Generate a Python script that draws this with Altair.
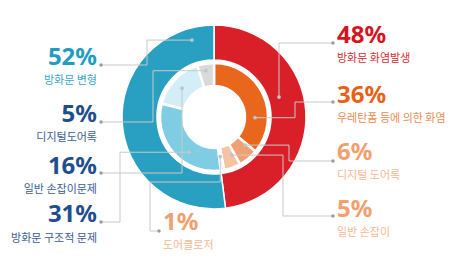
import math
import altair as alt
import pandas as pd

# ---------------- data ----------------
outer_names = ["방화문 화염발생", "방화문 변형"]
outer_values = [48, 52]
outer_colors = ["#d91f28", "#29a0c1"]

inner_names = ["우레탄폼 등에 의한 화염", "디지털 도어록", "일반 손잡이", "도어클로저",
               "방화문 구조적 문제", "일반 손잡이문제", "디지털도어록"]
inner_values = [36, 6, 5, 1, 31, 16, 5]
inner_colors = ["#e9661d", "#f0a072", "#f5c3a4", "#f7cfb8", "#7ecde2", "#d3eef6", "#d9d9d9"]

# ---------------- layout ----------------
W, H = 457, 266
CX, CY = 214, 117

# per slice annotation layout:
# ring, idx, side, text_x, pct_baseline_y, name_mid_y, pct_color, name_color,
# anchor_x, anchor_y, elbow_x, elbow_y (None -> dot y), dot_angle, dot_radius
ann = [
    ("outer", 0, "L", 337, 43, 59, "#d7141e", "#dc2a33", 333, 43, 279, None, 73, 68),
    ("outer", 1, "R", 97, 65, 81, "#1f9dc1", "#3aa7c7", 101, 65, 147, None, 344, 80),
    ("inner", 0, "L", 337, 103, 119, "#ea5f16", "#f08a52", 333, 102, 295, None, 91, 41),
    ("inner", 1, "L", 337, 160, 176, "#f2a06e", "#f6b994", 333, 161, 289, None, 132, 42),
    ("inner", 2, "L", 337, 217, 233, "#f2a06e", "#f6b994", 333, 216, 283, None, 155, 42),
    ("inner", 3, "L", 163, 230, 246, "#f0a070", "#f5b894", 159, 231, 150, 182, 171, 40),
    ("inner", 4, "R", 97, 222, 239, "#1f4e8e", "#3b5c93", 101, 222, 120, None, 215, 43),
    ("inner", 5, "R", 97, 174, 190, "#1f4e8e", "#3b5c93", 101, 173, 182, None, 312, 43),
    ("inner", 6, "R", 97, 122, 138, "#1f4e8e", "#3b5c93", 101, 122, 153, None, 350, 47),
]


def polar(angle, r):
    a = math.radians(angle)
    return CX + r * math.sin(a), CY - r * math.cos(a)


rings = {"outer": (outer_names, outer_values), "inner": (inner_names, inner_values)}

text_rows, lead_rows, anchor_rows, dot_rows = [], [], [], []
for k, (ring, i, side, tx, py, ny, pc, nc, ax, ay, ex, ey, da, dr) in enumerate(ann):
    names, vals = rings[ring]
    dx, dy = polar(da, dr)
    if ey is None:
        ey = dy
    text_rows.append({"text": f"{vals[i]}%", "x": tx, "y": py, "color": pc, "side": side, "kind": "pct"})
    text_rows.append({"text": names[i], "x": tx, "y": ny, "color": nc, "side": side, "kind": "name"})
    pts = [(ax, ay), (ex, ay), (ex, ey), (dx, ey), (dx, dy)]
    for j, (px, pyy) in enumerate(pts):
        lead_rows.append({"id": k, "ord": j, "x": px, "y": pyy})
    anchor_rows.append({"x": ax, "y": ay})
    dot_rows.append({"x": dx, "y": dy})

outer_df = pd.DataFrame({"name": outer_names, "value": outer_values,
                         "color": outer_colors, "idx": list(range(len(outer_values)))})
inner_df = pd.DataFrame({"name": inner_names, "value": inner_values,
                         "color": inner_colors, "idx": list(range(len(inner_values)))})
text_df = pd.DataFrame(text_rows)
lead_df = pd.DataFrame(lead_rows)
anchor_df = pd.DataFrame(anchor_rows)
dot_df = pd.DataFrame(dot_rows)

xs = alt.Scale(domain=[0, W], nice=False, zero=False)
ys = alt.Scale(domain=[0, H], nice=False, zero=False, reverse=True)
X = lambda: alt.X("x:Q", scale=xs, axis=None)
Y = lambda: alt.Y("y:Q", scale=ys, axis=None)


def arc(df, r0, r1, sw):
    return alt.Chart(df).mark_arc(innerRadius=r0, outerRadius=r1, stroke="white",
                                  strokeWidth=sw).encode(
        theta=alt.Theta("value:Q", stack=True),
        order=alt.Order("idx:Q", sort="ascending"),
        color=alt.Color("color:N", scale=None),
        x=alt.value(CX), y=alt.value(CY))


outer = arc(outer_df, 57, 92, 1.5)
inner = arc(inner_df, 31, 54, 2.5)

leads = alt.Chart(lead_df).mark_line(color="#c9c9c9", strokeWidth=1).encode(
    x=X(), y=Y(), detail="id:N", order="ord:Q")
anchors = alt.Chart(anchor_df).mark_circle(color="#9c9c9c", size=12, opacity=1).encode(x=X(), y=Y())
dots = alt.Chart(dot_df).mark_circle(color="#bcc6ce", size=14, opacity=1).encode(x=X(), y=Y())


def txt(kind, side):
    d = text_df[(text_df.kind == kind) & (text_df.side == side)]
    align = "left" if side == "L" else "right"
    if kind == "pct":
        m = alt.Chart(d).mark_text(align=align, baseline="alphabetic", font="Noto Sans",
                                   fontWeight="bold", fontSize=24)
    else:
        m = alt.Chart(d).mark_text(align=align, baseline="middle", font="Noto Sans CJK KR",
                                   fontSize=11)
    return m.encode(x=X(), y=Y(), text="text:N", color=alt.Color("color:N", scale=None))


chart = alt.layer(
    outer, inner, leads, anchors, dots,
    txt("pct", "L"), txt("pct", "R"), txt("name", "L"), txt("name", "R"),
).properties(
    width=W, height=H, padding=0,
    autosize=alt.AutoSizeParams(type="none"),
    background="white",
).configure_view(stroke=None)

chart.save("out.html", embed_options={"renderer": "svg", "actions": False})
